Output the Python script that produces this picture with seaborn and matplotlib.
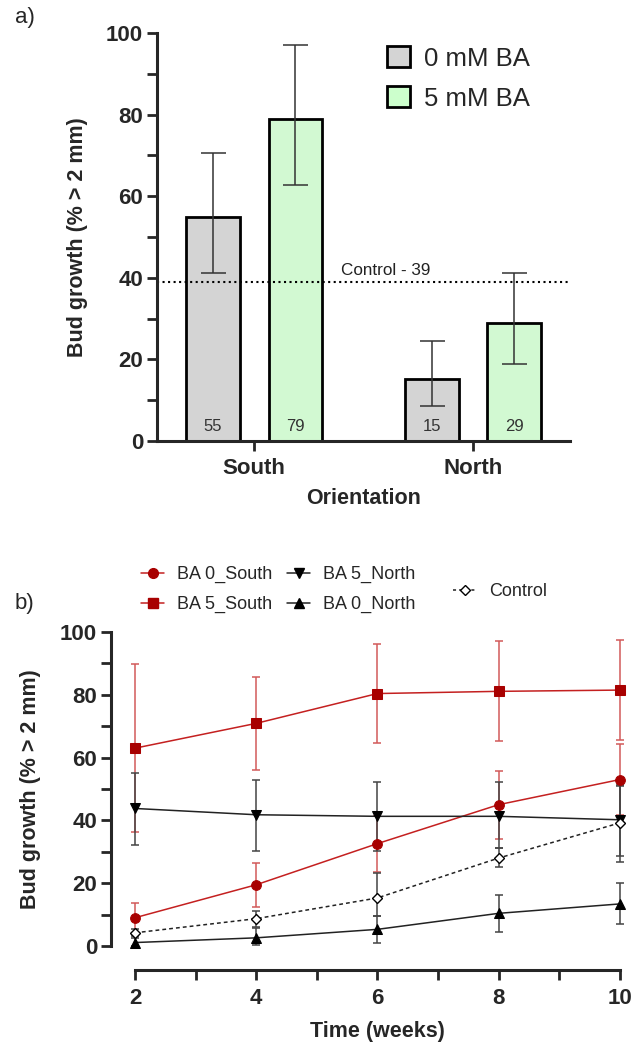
import pandas as pd
import seaborn as sns
import matplotlib.pyplot as plt
from matplotlib.lines import Line2D
from matplotlib.patches import Patch
from matplotlib.ticker import MultipleLocator

# a) bud growth by orientation and BA dose
orientations = ['South', 'North']
treatments = ['0 mM BA', '5 mM BA']
growth_0 = [54.8, 15.2]
growth_5 = [78.8, 28.9]
low_0 = [41.1, 8.5]
high_0 = [70.7, 24.6]
low_5 = [62.8, 18.9]
high_5 = [97.1, 41.2]
labels_0 = ['55', '15']
labels_5 = ['79', '29']
control_level = 39

# b) bud growth over time
weeks = [2, 4, 6, 8, 10]
ba0_south = [9.0, 19.5, 32.6, 45.0, 53.0]
ba0_south_lo = [4.0, 12.3, 23.5, 34.2, 41.6]
ba0_south_hi = [13.8, 26.5, 41.5, 55.6, 64.4]
ba5_south = [63.0, 70.9, 80.4, 81.1, 81.5]
ba5_south_lo = [36.3, 56.1, 64.6, 65.2, 65.6]
ba5_south_hi = [89.9, 85.8, 96.1, 97.0, 97.4]
ba5_north = [43.8, 41.8, 41.3, 41.3, 40.2]
ba5_north_lo = [32.3, 30.4, 30.2, 31.2, 28.6]
ba5_north_hi = [55.1, 53.0, 52.3, 52.3, 51.4]
ba0_north = [1.1, 2.6, 5.3, 10.4, 13.4]
ba0_north_lo = [0.1, 0.2, 1.1, 4.6, 7.1]
ba0_north_hi = [2.4, 5.8, 9.7, 16.4, 20.0]
control = [4.2, 8.7, 15.3, 28.0, 39.2]
control_lo = [3.2, 6.2, 9.7, 25.2, 26.8]
control_hi = [5.4, 11.2, 23.3, 31.2, 51.0]

sns.set_theme(style='ticks')
plt.rcParams['font.family'] = ['Liberation Sans', 'DejaVu Sans']

fig = plt.figure(figsize=(6.32, 10.44), dpi=100)

# ---------- panel a ----------
ax1 = fig.add_axes([157 / 632, 1 - 441 / 1044, 413 / 632, 408 / 1044])
df = pd.DataFrame({
    'Orientation': orientations * 2,
    'Treatment': [treatments[0]] * 2 + [treatments[1]] * 2,
    'Growth': growth_0 + growth_5,
})
bar_colors = ['#d4d4d4', '#ccffcc']
sns.barplot(data=df, x='Orientation', y='Growth', hue='Treatment', palette=bar_colors,
            width=0.75, gap=0.35, edgecolor='black', linewidth=2, errorbar=None,
            legend=False, ax=ax1)

groups = [(growth_0, low_0, high_0, labels_0), (growth_5, low_5, high_5, labels_5)]
for cont, (vals, lo, hi, labs) in zip(ax1.containers, groups):
    for bar, v, l, h, lab in zip(cont, vals, lo, hi, labs):
        xc = bar.get_x() + bar.get_width() / 2
        ax1.errorbar(xc, v, yerr=[[v - l], [h - v]], fmt='none', ecolor='#333333',
                     elinewidth=1.1, capsize=9, capthick=1.1, zorder=4, clip_on=False)
        ax1.text(xc, 3.5, lab, ha='center', va='center', fontsize=12, color='#333333')

ax1.axhline(control_level, color='black', linestyle=':', linewidth=1.5, zorder=1)
ax1.text(0.6, control_level + 1, 'Control - 39', ha='center', va='bottom', fontsize=12.3,
         color='#222222')

ax1.set_xlim(-0.444, 1.443)
ax1.set_ylim(0, 100)
ax1.yaxis.set_major_locator(MultipleLocator(20))
ax1.yaxis.set_minor_locator(MultipleLocator(10))
ax1.set_xlabel('Orientation', fontsize=15.5, fontweight='bold', labelpad=7)
ax1.set_ylabel('Bud growth (% > 2 mm)', fontsize=15.5, fontweight='bold', labelpad=13)

handles = [Patch(facecolor=c, edgecolor='black', linewidth=2, label=t)
           for c, t in zip(bar_colors, treatments)]
fig.legend(handles=handles, loc='center left', bbox_to_anchor=(387 / 632, 1 - 78.5 / 1044),
           frameon=False, fontsize=18.5, handlelength=0.9, handleheight=0.85,
           handletextpad=0.55, labelspacing=0.62, borderpad=0, borderaxespad=0)

# ---------- panel b ----------
ax2 = fig.add_axes([111 / 632, 1 - 946 / 1044, 516 / 632, 314 / 1044])
red_line = '#c42020'
red_mark = '#a80000'
red_err = '#d25a5a'
blk_line = '#222222'
blk_err = '#444444'

series = [
    ('BA 0_South', ba0_south, ba0_south_lo, ba0_south_hi, 'o', red_line, red_mark, red_err),
    ('BA 5_South', ba5_south, ba5_south_lo, ba5_south_hi, 's', red_line, red_mark, red_err),
    ('BA 5_North', ba5_north, ba5_north_lo, ba5_north_hi, 'v', blk_line, 'black', blk_err),
    ('BA 0_North', ba0_north, ba0_north_lo, ba0_north_hi, '^', blk_line, 'black', blk_err),
]
for name, vals, lo, hi, mk, lc, mc, ec in series:
    yerr = [[v - l for v, l in zip(vals, lo)], [h - v for v, h in zip(vals, hi)]]
    ax2.errorbar(weeks, vals, yerr=yerr, fmt='none', ecolor=ec, elinewidth=1.1,
                 capsize=3, capthick=1.1, zorder=2, clip_on=False)
    sns.lineplot(x=weeks, y=vals, color=lc, marker=mk, markersize=7, markerfacecolor=mc,
                 markeredgecolor=mc, linewidth=1.1, ax=ax2, zorder=3, clip_on=False)

yerr_c = [[v - l for v, l in zip(control, control_lo)], [h - v for v, h in zip(control, control_hi)]]
ax2.errorbar(weeks, control, yerr=yerr_c, fmt='none', ecolor=blk_err, elinewidth=1.1,
             capsize=3, capthick=1.1, zorder=2, clip_on=False)
sns.lineplot(x=weeks, y=control, color=blk_line, linestyle=(0, (2.5, 2)), marker='D',
             markersize=5.5, markerfacecolor='white', markeredgecolor='black',
             markeredgewidth=1, linewidth=1.1, ax=ax2, zorder=3, clip_on=False)

ax2.set_xlim(1.604, 10.12)
ax2.set_ylim(0, 100)
ax2.xaxis.set_major_locator(MultipleLocator(2))
ax2.xaxis.set_minor_locator(MultipleLocator(1))
ax2.yaxis.set_major_locator(MultipleLocator(20))
ax2.yaxis.set_minor_locator(MultipleLocator(10))
ax2.spines['bottom'].set_position(('outward', 17))
ax2.spines['bottom'].set_bounds(2, 10)
ax2.set_xlabel('Time (weeks)', fontsize=15.5, fontweight='bold', labelpad=9)
ax2.xaxis.label.set_x((6 - 1.604) / (10.12 - 1.604))
ax2.set_ylabel('Bud growth (% > 2 mm)', fontsize=15.5, fontweight='bold', labelpad=14)

leg_handles = [Line2D([], [], color=lc, marker=mk, markersize=7, markerfacecolor=mc,
                      markeredgecolor=mc, linewidth=1.1, label=name)
               for name, _, _, _, mk, lc, mc, _ in series]
fig.legend(handles=leg_handles, loc='center left', bbox_to_anchor=(141 / 632, 1 - 589.5 / 1044),
           ncol=2, frameon=False, fontsize=13, handlelength=1.3, handletextpad=0.7,
           columnspacing=0.8, labelspacing=0.7, borderpad=0, borderaxespad=0)
ctrl_handle = Line2D([], [], color=blk_line, linestyle=(0, (2, 2)), marker='D', markersize=5.5,
                     markerfacecolor='white', markeredgecolor='black', linewidth=1.1,
                     label='Control')
fig.legend(handles=[ctrl_handle], loc='center left', bbox_to_anchor=(453 / 632, 1 - 592 / 1044),
           frameon=False, fontsize=13, handlelength=1.3, handletextpad=0.7, borderpad=0,
           borderaxespad=0)

# common axis styling
for ax in (ax1, ax2):
    sns.despine(ax=ax)
    for side in ('left', 'bottom'):
        ax.spines[side].set_linewidth(2.2)
    ax.tick_params(which='major', width=2, length=7, labelsize=16, pad=3)
    ax.tick_params(which='minor', width=2, length=7)
    for lbl in ax.get_xticklabels() + ax.get_yticklabels():
        lbl.set_fontweight('bold')
ax1.tick_params(axis='x', which='minor', length=0)
ax1.tick_params(axis='x', pad=5)
ax2.tick_params(axis='x', pad=6)

fig.text(15 / 632, 1 - 18 / 1044, 'a)', fontsize=16, va='center', ha='left')
fig.text(15 / 632, 1 - 603 / 1044, 'b)', fontsize=16, va='center', ha='left')

fig.savefig('out.png', dpi=100)
